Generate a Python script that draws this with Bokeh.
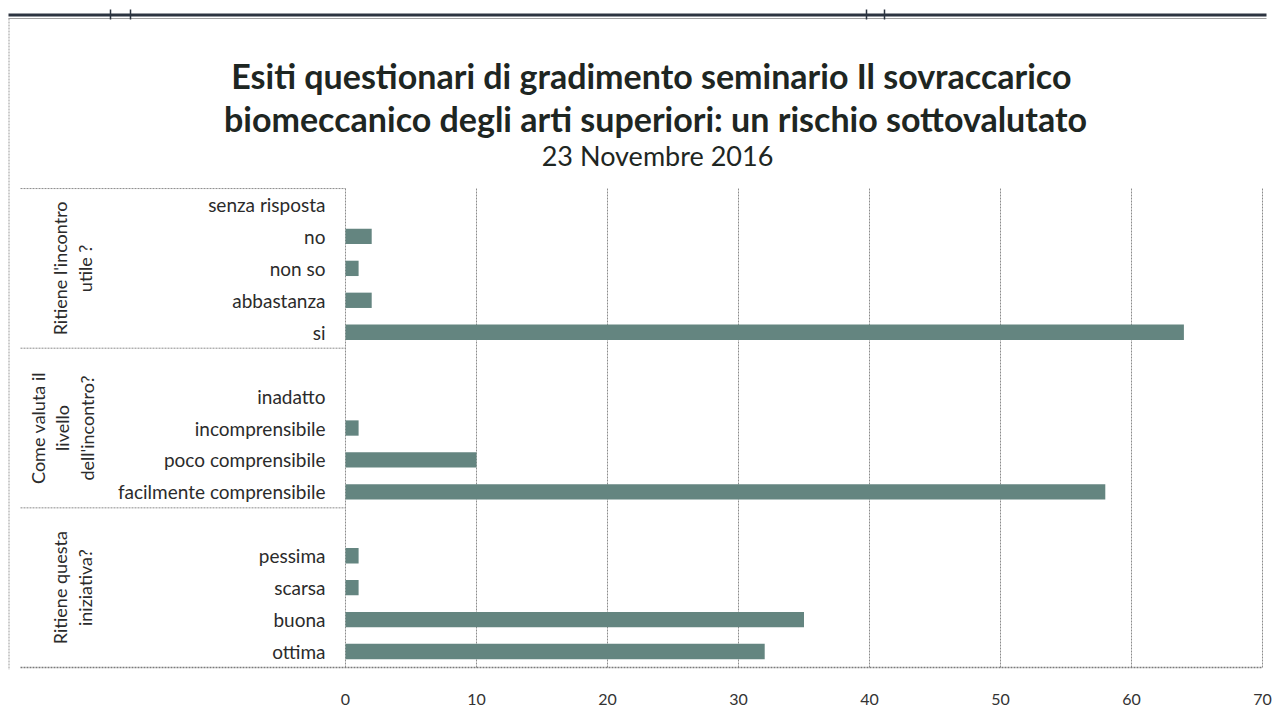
import math
from bokeh.plotting import figure
from bokeh.models import Range1d, FixedTicker
from bokeh.core.properties import value
from bokeh.embed import file_html
from bokeh.resources import INLINE

# ---------------- data ----------------
title_line1 = "Esiti questionari di gradimento seminario  Il sovraccarico"
title_line2 = "biomeccanico degli arti superiori: un rischio sottovalutato"
subtitle = "23 Novembre 2016"

group_labels = ["Ritiene l'incontro\nutile ?",
                "Come valuta il\nlivello\ndell'incontro?",
                "Ritiene questa\niniziativa?"]
cats_utile = ["senza risposta", "no", "non so", "abbastanza", "si"]
vals_utile = [0, 2, 1, 2, 64]
cats_livello = ["", "inadatto", "incomprensibile", "poco comprensibile", "facilmente comprensibile"]
vals_livello = [0, 0, 1, 10, 58]
cats_iniz = ["", "pessima", "scarsa", "buona", "ottima"]
vals_iniz = [0, 1, 1, 35, 32]
x_ticks = [0, 10, 20, 30, 40, 50, 60, 70]

# ---------------- geometry (page pixels) ----------------
FIG_W, FIG_H = 1280, 710
PX0, PXU = 345.0, 13.1          # page x of value 0, px per unit
PY0, PYU = 667.0, 31.93         # page y of slot bottom, px per slot
FL, FR, FT, FB = 0, 1266, 0, 669

def dx(px):
    return (px - PX0) / PXU

def dy(py):
    return (PY0 - py) / PYU

cats = cats_utile + cats_livello + cats_iniz
vals = vals_utile + vals_livello + vals_iniz
n = len(cats)
ys = [n - 0.5 - i for i in range(n)]

p = figure(width=FIG_W, height=FIG_H, output_backend="svg", toolbar_location=None,
           x_range=Range1d(dx(FL), dx(FR)), y_range=Range1d(dy(FB), dy(FT)),
           min_border_left=FL, min_border_right=FIG_W - FR,
           min_border_top=FT, min_border_bottom=FIG_H - FB)
p.outline_line_color = None
p.background_fill_color = "white"
p.border_fill_color = "white"
p.xgrid.visible = False
p.ygrid.visible = False

# axes
p.yaxis.visible = False
p.xaxis.ticker = FixedTicker(ticks=x_ticks)
p.xaxis.axis_line_color = None
p.xaxis.major_tick_line_color = None
p.xaxis.minor_tick_line_color = None
p.xaxis.major_label_standoff = 18
p.xaxis.major_label_text_font = "Lato"
p.xaxis.major_label_text_font_size = "16px"
p.xaxis.major_label_text_color = "#333333"

GRID = "#8c8c8c"
# vertical grid lines (value gridlines)
p.segment(x0=x_ticks, y0=[0] * len(x_ticks), x1=x_ticks, y1=[n] * len(x_ticks),
          line_color=GRID, line_dash="2 1", line_width=1)

# category area lines
sep_x0 = dx(20)
for yy in [n, n - len(cats_utile), len(cats_iniz)]:
    p.segment(x0=sep_x0, y0=yy, x1=0, y1=yy, line_color=GRID, line_dash="2 1", line_width=1)
p.segment(x0=sep_x0, y0=0, x1=x_ticks[-1], y1=0, line_color="#7a7a7a", line_dash="2 1", line_width=1.3)

# bars
p.hbar(y=ys, left=0, right=vals, height=0.48, fill_color="#648580", line_color=None)

# category labels
p.text(x=[0] * n, y=ys, text=cats, x_offset=-20, text_align="right", text_baseline="middle",
       text_font=value("Lato"), text_font_size="19px", text_color="#2b2b2b")

# group labels
sizes = [len(cats_utile), len(cats_livello), len(cats_iniz)]
g_centers = []
top = n
for s in sizes:
    g_centers.append(top - s / 2)
    top -= s
g_px = [72, 62, 72]
p.text(x=[dx(v) for v in g_px], y=g_centers, text=group_labels, angle=math.pi / 2,
       text_align="center", text_baseline="middle", text_font=value("Lato"),
       text_font_size="18px", text_line_height=1.1, text_color="#2b2b2b")

# titles
p.text(x=[dx(655)] * 2, y=[dy(75), dy(118)], text=[title_line1, title_line2],
       text_align="center", text_baseline="middle", text_font=value("Lato"),
       text_font_size="34px", text_font_style="bold", text_color="#1e2622")
p.text(x=[dx(657)], y=[dy(155)], text=[subtitle],
       text_align="center", text_baseline="middle", text_font=value("Lato"),
       text_font_size="27px", text_color="#1e2622")

# scanned page frame lines
p.segment(x0=dx(8), y0=dy(14.5), x1=dx(1283), y1=dy(14.5), line_color="#2c3440", line_width=3)
p.segment(x0=dx(8), y0=dy(18), x1=dx(1283), y1=dy(18), line_color="#a0a0a0", line_width=1)
p.segment(x0=[dx(v) for v in [110, 130, 866, 884]], y0=[dy(9)] * 4,
          x1=[dx(v) for v in [110, 130, 866, 884]], y1=[dy(19)] * 4,
          line_color="#2c3440", line_width=1.5)
p.segment(x0=dx(8.5), y0=dy(18), x1=dx(8.5), y1=dy(711), line_color="#9a9a9a",
          line_dash="2 1", line_width=1)

open("out.html", "w").write(file_html(p, INLINE))
